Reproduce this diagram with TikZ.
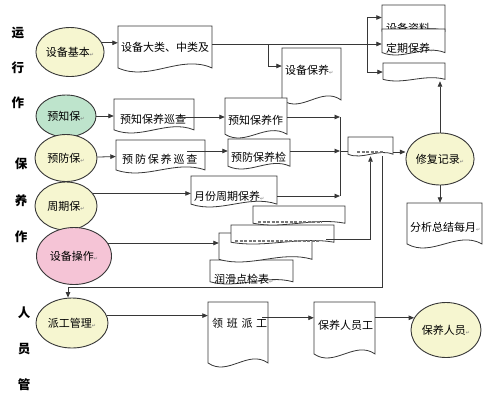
\documentclass[tikz,border=0pt]{standalone}
\usepackage{fontspec}
\setmainfont{Noto Sans CJK SC}
\newfontfamily\djv{DejaVu Sans}
\usetikzlibrary{arrows.meta}
\definecolor{ln}{RGB}{55,55,55}
\definecolor{cy}{RGB}{246,246,208}
\definecolor{cg}{RGB}{190,228,204}
\definecolor{cp}{RGB}{245,196,214}
\definecolor{frag}{RGB}{120,120,120}
\newcommand\ret{{\djv\fontsize{5}{5}\selectfont\color{frag}↵}}
\tikzset{
  docbox/.style={draw=ln, fill=white, line width=0.8pt},
  ell/.style={ellipse, draw=ln, line width=0.9pt, inner sep=0pt, font=\fontsize{11}{13}\selectfont},
  txt/.style={anchor=west, inner sep=0pt, font=\fontsize{11}{13}\selectfont},
  lab/.style={inner sep=0pt, font=\fontsize{12.5}{14}\selectfont\bfseries},
  ln/.style={draw=ln, line width=0.8pt},
  arr/.style={draw=ln, line width=0.8pt, -{Triangle[length=5.5pt,width=4.5pt]}},
  fragline/.style={draw=frag, line width=1.3pt, dash pattern=on 3pt off 1.5pt}
}
\usetikzlibrary{shapes.geometric}
\newcommand\docshape[5]{%
 \pgfmathsetmacro\dW{#4-#2}%
 \pgfmathsetmacro\dH{#5-#3}%
 \pgfmathsetmacro\dA{min(14,0.32*\dH)}%
 \pgfmathsetmacro\dB{#5-0.29*\dA}%
 \pgfmathsetmacro\dCa{#4-\dW/3}%
 \pgfmathsetmacro\dCb{#2+\dW/3}%
 \pgfmathsetmacro\dYa{\dB-\dA}%
 \pgfmathsetmacro\dYb{\dB+\dA}%
 \filldraw[docbox] (#2,#3) -- (#4,#3) -- (#4,\dB) .. controls (\dCa,\dYa) and (\dCb,\dYb) .. (#2,\dB) -- cycle;
 \node[inner sep=0pt, minimum width=\dW pt, minimum height=\dH pt] (#1) at ({(#2+#4)/2},{(#3+#5)/2}) {};%
}
\begin{document}
\begin{tikzpicture}[x=1pt,y=-1pt]
\fill[white] (0,0) rectangle (500,400);
\useasboundingbox (0,0) rectangle (500,400);

% left labels
\node[lab] (l1) at (18,33) {运};
\node[lab] (l2) at (18,68) {行};
\node[lab] (l3) at (18,103) {作};
\node[lab] (l4) at (21,164) {保};
\node[lab] (l5) at (21,201) {养};
\node[lab] (l6) at (21,237) {作};
\node[lab] (l7) at (24,313) {人};
\node[lab] (l8) at (24,349) {员};
\node[lab] (l9) at (24,385) {管};

% documents
\docshape{d1}{118}{26}{212}{72}
\node[txt] (t1) at (121,47) {设备大类、中类及};
\docshape{d2}{282}{48}{341}{104}
\node[txt] (t2) at (285,70) {设备保养\ret};
\docshape{d3}{382}{5}{445}{34}
\node[txt] (t3) at (386,28) {设备资料\ret};
\docshape{d4}{382}{29}{445}{55}
\node[txt] (t4) at (386,48) {定期保养\ret};
\docshape{d5}{383}{63}{445}{81}
\docshape{d6}{114}{99}{194}{133}
\node[txt] (t6) at (120,119) {预知保养巡查};
\docshape{d7}{225}{98}{287}{138}
\node[txt] (t7) at (228,120) {预知保养作};
\docshape{d8}{116}{140}{205}{173}
\node[txt] (t8) at (122,159) {预\,防\,保\,养\,巡\,查};
\docshape{d9}{228}{139}{290}{169}
\node[txt] (t9) at (231,157) {预防保养检};
\docshape{d10}{191}{176}{277}{207}
\node[txt] (t10) at (194,196) {月份周期保养\ret};
\docshape{d11}{348}{137}{393}{156}
\draw[fragline] (357,152) -- (384,152);
% stack of documents
\docshape{dD}{210}{260}{293}{284}
\node[txt] (tD) at (214,279) {润滑点检表\ret};
\docshape{dC}{219}{233}{312}{262}
\docshape{dB}{231}{225}{334}{244}
\draw[fragline] (235,241) -- (320,241);
\docshape{dA}{253}{206}{345}{225}
\draw[fragline] (258,222) -- (322,222);
\docshape{d12}{407}{203}{482}{248}
\node[txt] (t12) at (410,227) {分析总结每月\ret};
\docshape{d13}{208}{302}{268}{367}
\node[txt] (t13) at (212,323) {领\,\,班\,\,派\,\,工};
\docshape{d14}{314}{302}{375}{358}
\node[txt] (t14) at (318,325) {保养人员工};

% ellipses
\node[ell, fill=cy, minimum width=68pt, minimum height=49pt] (eA) at (70,52) {设备基本\ret};
\node[ell, fill=cg, minimum width=60pt, minimum height=42pt] (eB) at (66,116) {预知保\ret};
\node[ell, fill=cy, minimum width=62pt, minimum height=47pt] (eC) at (66,158) {预防保\ret};
\node[ell, fill=cy, minimum width=62pt, minimum height=48pt] (eD) at (66,206) {周期保\ret};
\node[ell, fill=cp, minimum width=75pt, minimum height=57pt] (eE) at (74,256) {设备操作\ret};
\node[ell, fill=cy, minimum width=72pt, minimum height=50pt] (eF) at (72,323) {派工管理\ret};
\node[ell, fill=cy, minimum width=66pt, minimum height=52pt] (eG) at (440,159) {修复记录\ret};
\node[ell, fill=cy, minimum width=70pt, minimum height=55pt] (eH) at (446,330) {保养人员\ret};

% junctions
\coordinate (j1) at (367,44);
\coordinate (j2) at (268,44);
\coordinate (b1) at (340,117);
\coordinate (b2) at (340,151);
\coordinate (b3) at (340,196);
\coordinate (j3) at (68,287);

% connectors
\draw[arr] (eA.16) -- (d1.west |- eA.16);
\draw[ln] (d1.east |- j1) -- (j1);
\draw[arr] (j1) |- ([yshift=2pt]d3.west);
\draw[arr] (j1) -- (d4.west |- j1);
\draw[arr] (j1) |- (d5.west);
\draw[arr] (j2) |- ([yshift=10pt]d2.west);

\draw[arr] (eB) -- (d6.west);
\draw[arr] ([xshift=-16pt]d6.east |- b1) -- (d7.west |- b1);
\draw[ln] (b1) -- (b3);
\draw[arr] (d7.east |- b1) -- (b1);
\draw[arr] (d9.east |- b2) -- (b2);
\draw[arr] (d10.east |- b3) -- (b3);
\draw[ln] (b2) -- (d11.west |- b2);

\draw[arr] (eC) -- (d8.west);
\draw[arr] ([xshift=-18pt]d8.east |- b2) -- (d9.west |- b2);
\draw[arr] (eD.25) -- (d10.west |- eD.25);
\draw[arr] (eE.21) -- (dC.west |- eE.21);
\draw[arr] ([xshift=-8pt,yshift=-5pt]dB.east) -| (d11.south);
\draw[arr] ([yshift=-5.5pt]d11.east) -- ([yshift=-5.5pt]d11.east -| eG.west);
\draw[arr] (eG.north) -- (eG.north |- d5.south);
\draw[arr] (eG.south) -- (eG.south |- d12.north);
\draw[arr] ([xshift=12pt]d11.south) |- (j3) -- (j3 |- eF.north);
\draw[arr] (eF.12) -- (d13.west |- eF.12);
\draw[arr] ([xshift=-6pt]d13.east |- eH.159) -- (d14.west |- eH.159);
\draw[arr] (d14.east |- eH.159) -- (eH.159);
\end{tikzpicture}
\end{document}
